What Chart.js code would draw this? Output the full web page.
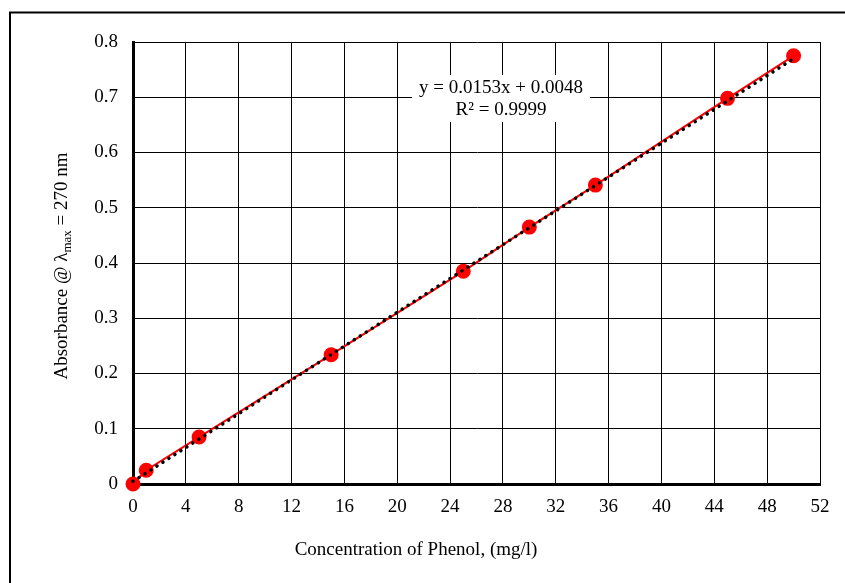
<!DOCTYPE html>
<html>
<head>
<meta charset="utf-8">
<script src="https://cdn.jsdelivr.net/npm/chart.js@4"></script>
<style>
  html, body { margin: 0; padding: 0; background: #fff; }
  #wrap { width: 845px; height: 583px; }
</style>
</head>
<body>
<div id="wrap"><canvas id="phenolChart" width="845" height="583"></canvas></div>
<script>
// Calibration data
const concentration = [0, 1, 5, 15, 25, 30, 35, 45, 50];
const absorbance = [0, 0.025, 0.085, 0.234, 0.385, 0.465, 0.541, 0.698, 0.775];
const slope = 0.0153;
const intercept = 0.0048;
const rSquared = '0.9999';
const trendX = [0, 50];

const serif = "'Liberation Serif', 'Times New Roman', serif";

// Outer frame, axis titles and equation box
const decorations = {
  id: 'decorations',
  beforeDraw(chart) {
    const ctx = chart.ctx;
    ctx.save();
    ctx.fillStyle = '#fff';
    ctx.fillRect(0, 0, chart.width, chart.height);
    ctx.strokeStyle = '#000';
    ctx.lineWidth = 2;
    ctx.strokeRect(10, 12.5, 850, 600);
    ctx.restore();
  },
  afterDraw(chart) {
    const ctx = chart.ctx;
    const area = chart.chartArea;
    ctx.save();
    ctx.fillStyle = '#000';
    ctx.textBaseline = 'middle';

    // x axis title
    ctx.font = '19px ' + serif;
    ctx.textAlign = 'center';
    ctx.fillText('Concentration of Phenol, (mg/l)', 416, 550);

    // y axis title with subscript
    ctx.translate(62, 266);
    ctx.rotate(-Math.PI / 2);
    const a = 'Absorbance @ λ', sub = 'max', b = ' = 270 nm';
    ctx.font = '19px ' + serif;
    const wa = ctx.measureText(a).width, wb = ctx.measureText(b).width;
    ctx.font = '13px ' + serif;
    const ws = ctx.measureText(sub).width;
    let x = -(wa + ws + wb) / 2;
    ctx.textAlign = 'left';
    ctx.font = '19px ' + serif;
    ctx.fillText(a, x, 0);
    x += wa;
    ctx.font = '13px ' + serif;
    ctx.fillText(sub, x, 6);
    x += ws;
    ctx.font = '19px ' + serif;
    ctx.fillText(b, x, 0);
    ctx.restore();

    // equation label
    ctx.save();
    ctx.font = '19px ' + serif;
    ctx.textAlign = 'center';
    ctx.textBaseline = 'middle';
    const l1 = 'y = ' + slope + 'x + ' + intercept.toFixed(4);
    const l2 = 'R² = ' + rSquared;
    const cx = 501;
    const w = ctx.measureText(l1).width + 14;
    ctx.fillStyle = '#fff';
    ctx.fillRect(cx - w / 2, 75, w, 47);
    ctx.fillStyle = '#000';
    ctx.fillText(l1, cx, 88);
    ctx.fillText(l2, cx, 110);
    ctx.restore();
  }
};

const ctx = document.getElementById('phenolChart').getContext('2d');
new Chart(ctx, {
  type: 'scatter',
  data: {
    datasets: [
      {
        label: 'Linear fit',
        data: trendX.map(x => ({ x: x, y: slope * x + intercept })),
        showLine: true,
        borderColor: '#000',
        borderWidth: 3.5,
        borderDash: [0.1, 7],
        borderCapStyle: 'round',
        pointRadius: 0,
        fill: false,
        clip: false
      },
      {
        label: 'Absorbance',
        data: concentration.map((c, i) => ({ x: c, y: absorbance[i] })),
        showLine: true,
        borderColor: '#ff0000',
        borderWidth: 2,
        backgroundColor: '#ff0000',
        pointBackgroundColor: '#ff0000',
        pointBorderColor: '#ff0000',
        pointRadius: 6.5,
        fill: false,
        clip: false
      }
    ]
  },
  options: {
    responsive: false,
    animation: false,
    events: [],
    layout: { padding: { top: 42, right: 25, left: 0, bottom: 0 } },
    plugins: {
      legend: { display: false },
      tooltip: { enabled: false }
    },
    scales: {
      x: {
        type: 'linear',
        min: 0,
        max: 52,
        afterFit(scale) { scale.height = 99; },
        ticks: {
          stepSize: 4,
          padding: 12,
          color: '#000',
          font: { family: serif, size: 19 }
        },
        grid: { color: '#000', lineWidth: 1, drawTicks: false },
        border: { color: '#000', width: 3 }
      },
      y: {
        min: 0,
        max: 0.8,
        afterFit(scale) { scale.width = 133; },
        ticks: {
          stepSize: 0.1,
          padding: 15,
          color: '#000',
          font: { family: serif, size: 19 },
          callback: v => (Math.round(v * 10) / 10).toString()
        },
        grid: { color: '#000', lineWidth: 1, drawTicks: false },
        border: { color: '#000', width: 3 }
      }
    }
  },
  plugins: [decorations]
});
</script>
</body>
</html>
